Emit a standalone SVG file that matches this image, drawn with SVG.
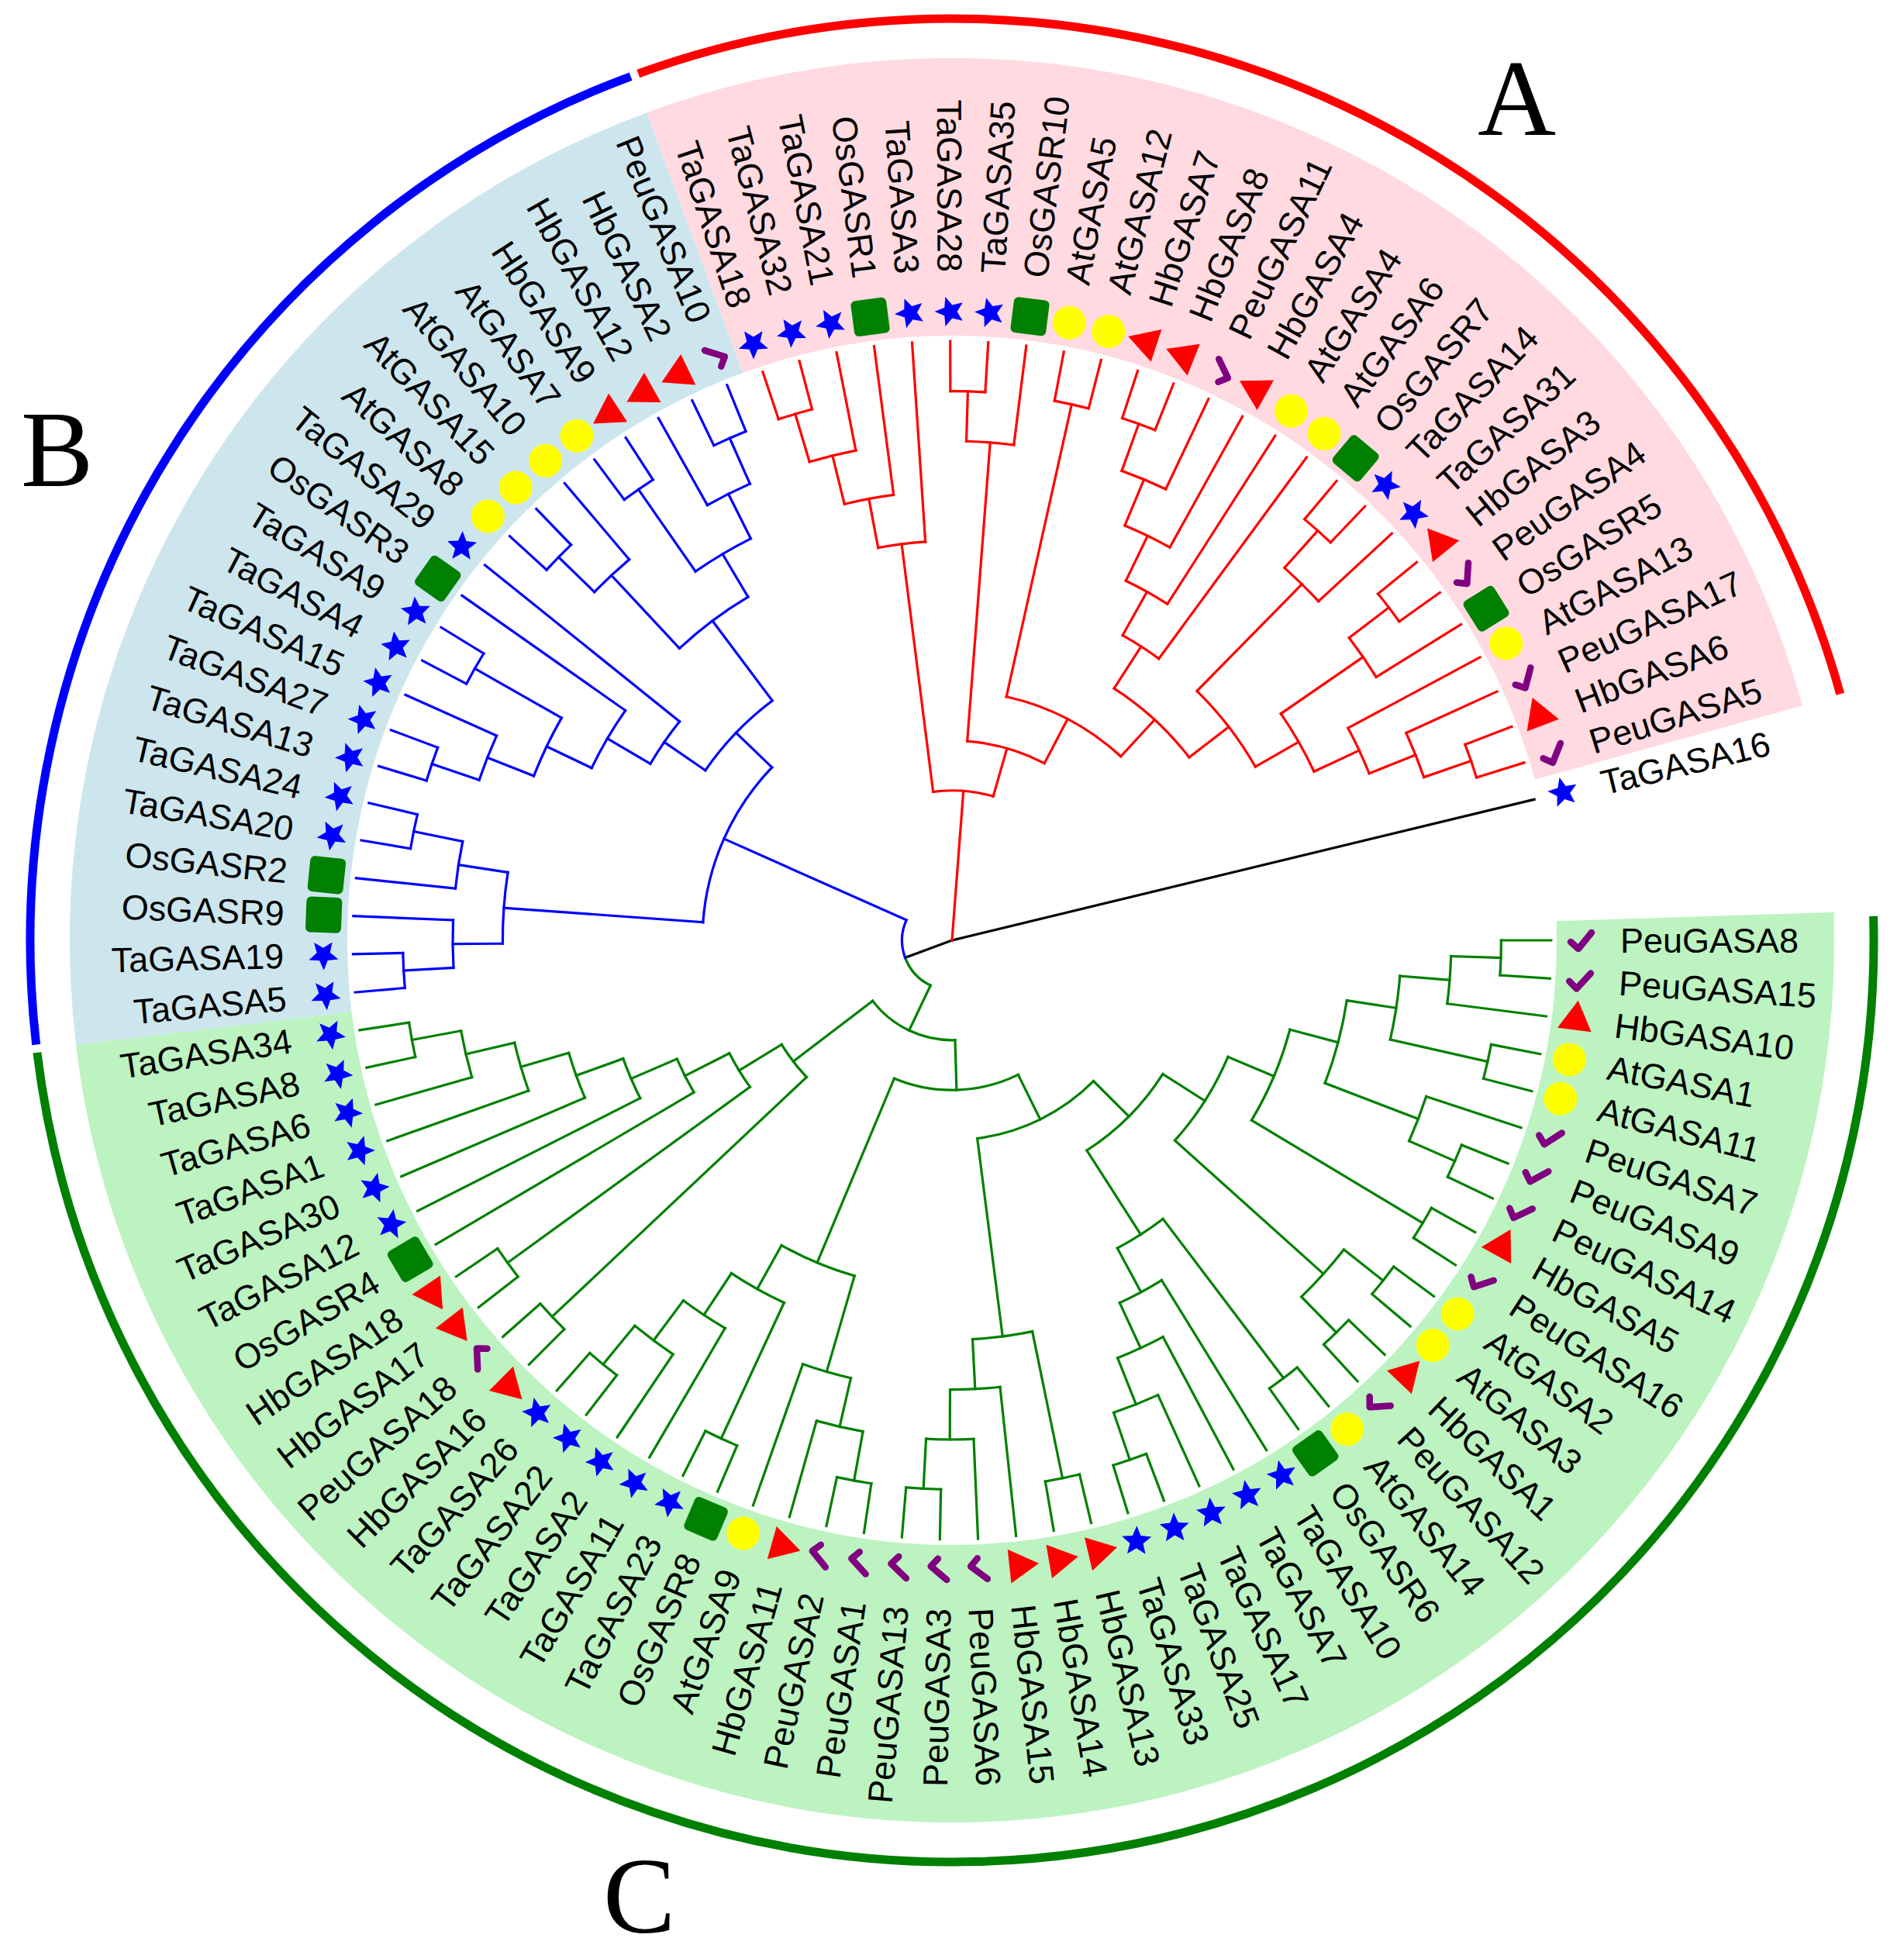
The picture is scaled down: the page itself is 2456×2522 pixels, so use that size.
<svg xmlns="http://www.w3.org/2000/svg" width="2456" height="2522" viewBox="0 0 2456 2522">
<style>
.tr path,.tr circle{fill:none;stroke-width:3.2;stroke-linecap:square}
.R path,.R circle{stroke:#ff0000}
.Bl path,.Bl circle{stroke:#0000ff}
.G path,.G circle{stroke:#008000}
.K path{stroke:#000000}
.lb text{font-family:"Liberation Sans",Arial,sans-serif;font-size:45px;fill:#000}
.lb .e{text-anchor:end}
.big{font-family:"Liberation Serif","Times New Roman",serif;font-size:140px;fill:#000}
.bg circle{fill:none;stroke-width:358}
.oa circle{fill:none;stroke-width:11}
</style>
<defs>
<path id="st" d="M0-20L5.29-7.28L19.02-6.18L8.56 2.78L11.76 16.18L0 9L-11.76 16.18L-8.56 2.78L-19.02-6.18L-5.29-7.28Z" fill="#0000ff"/>
<rect id="sq" x="-23" y="-23" width="46" height="46" rx="6" fill="#008000"/>
<circle id="ci" r="21.5" fill="#ffff00"/>
<path id="tri" d="M0-25.4L22 12.7L-22 12.7Z" fill="#ff0000"/>
<path id="ck" d="M-13 2L-3 11L14-10" fill="none" stroke="#800080" stroke-width="8.5" stroke-linecap="round" stroke-linejoin="round"/>
</defs>
<rect width="2456" height="2522" fill="#fff"/>
<g transform="translate(1228,1213)">
<g id="bands" class="bg">
<circle r="959" pathLength="360" stroke-dasharray="175.02 360" transform="rotate(-1.82)" stroke="#bcf3c0"/>
<circle r="959" pathLength="360" stroke-dasharray="76.57 360" transform="rotate(173.2)" stroke="#cde6ee"/>
<circle r="959" pathLength="360" stroke-dasharray="94.81 360" transform="rotate(249.77)" stroke="#ffdae0"/>
</g>
<g id="clade-arcs" class="oa">
<circle r="1189" pathLength="360" stroke-dasharray="94.4 360" transform="rotate(250.1)" stroke="#ff0000"/>
<circle r="1189" pathLength="360" stroke-dasharray="76.1 360" transform="rotate(173.5)" stroke="#0000ff"/>
<circle r="1189" pathLength="360" stroke-dasharray="174.5 360" transform="rotate(-1.5)" stroke="#008000"/>
</g>
<g id="connectors" class="tr">
<g class="K">
<path d="M0 0H64.4" transform="rotate(159.72)"/>
<path d="M0 0H772.8" transform="rotate(346.4)"/>
</g>
<g class="G">
<path d="M708.4 0H772.8"/>
<path d="M708.4 0H772.8" transform="rotate(3.65)"/>
<path d="M644 0H772.8" transform="rotate(7.29)"/>
<path d="M708.4 0H772.8" transform="rotate(10.94)"/>
<path d="M708.4 0H772.8" transform="rotate(14.59)"/>
<path d="M644 0H772.8" transform="rotate(18.23)"/>
<path d="M708.4 0H772.8" transform="rotate(21.88)"/>
<path d="M708.4 0H772.8" transform="rotate(25.52)"/>
<path d="M708.4 0H772.8" transform="rotate(29.17)"/>
<path d="M708.4 0H772.8" transform="rotate(32.82)"/>
<path d="M708.4 0H772.8" transform="rotate(36.46)"/>
<path d="M708.4 0H772.8" transform="rotate(40.11)"/>
<path d="M708.4 0H772.8" transform="rotate(43.76)"/>
<path d="M708.4 0H772.8" transform="rotate(47.4)"/>
<path d="M708.4 0H772.8" transform="rotate(51.05)"/>
<path d="M708.4 0H772.8" transform="rotate(54.69)"/>
<path d="M515.2 0H772.8" transform="rotate(58.34)"/>
<path d="M579.6 0H772.8" transform="rotate(61.99)"/>
<path d="M644 0H772.8" transform="rotate(65.63)"/>
<path d="M708.4 0H772.8" transform="rotate(69.28)"/>
<path d="M708.4 0H772.8" transform="rotate(72.93)"/>
<path d="M708.4 0H772.8" transform="rotate(76.57)"/>
<path d="M708.4 0H772.8" transform="rotate(80.22)"/>
<path d="M579.6 0H772.8" transform="rotate(83.86)"/>
<path d="M644 0H772.8" transform="rotate(87.51)"/>
<path d="M708.4 0H772.8" transform="rotate(91.16)"/>
<path d="M708.4 0H772.8" transform="rotate(94.8)"/>
<path d="M708.4 0H772.8" transform="rotate(98.45)"/>
<path d="M708.4 0H772.8" transform="rotate(102.1)"/>
<path d="M644 0H772.8" transform="rotate(105.74)"/>
<path d="M579.6 0H772.8" transform="rotate(109.39)"/>
<path d="M708.4 0H772.8" transform="rotate(113.04)"/>
<path d="M708.4 0H772.8" transform="rotate(116.68)"/>
<path d="M579.6 0H772.8" transform="rotate(120.33)"/>
<path d="M644 0H772.8" transform="rotate(123.97)"/>
<path d="M708.4 0H772.8" transform="rotate(127.62)"/>
<path d="M708.4 0H772.8" transform="rotate(131.27)"/>
<path d="M708.4 0H772.8" transform="rotate(134.91)"/>
<path d="M708.4 0H772.8" transform="rotate(138.56)"/>
<path d="M708.4 0H772.8" transform="rotate(142.21)"/>
<path d="M708.4 0H772.8" transform="rotate(145.85)"/>
<path d="M386.4 0H772.8" transform="rotate(149.5)"/>
<path d="M450.8 0H772.8" transform="rotate(153.14)"/>
<path d="M515.2 0H772.8" transform="rotate(156.79)"/>
<path d="M579.6 0H772.8" transform="rotate(160.44)"/>
<path d="M644 0H772.8" transform="rotate(164.08)"/>
<path d="M708.4 0H772.8" transform="rotate(167.73)"/>
<path d="M708.4 0H772.8" transform="rotate(171.38)"/>
<path d="M644 0H708.4" transform="rotate(1.825)"/>
<path d="M579.6 0H644" transform="rotate(4.56)"/>
<path d="M579.6 0H708.4" transform="rotate(12.765)"/>
<path d="M515.2 0H579.6" transform="rotate(8.66)"/>
<path d="M644 0H708.4" transform="rotate(23.7)"/>
<path d="M515.2 0H644" transform="rotate(20.965)"/>
<path d="M450.8 0H515.2" transform="rotate(14.81)"/>
<path d="M450.8 0H708.4" transform="rotate(30.995)"/>
<path d="M386.4 0H450.8" transform="rotate(22.9)"/>
<path d="M644 0H708.4" transform="rotate(38.285)"/>
<path d="M644 0H708.4" transform="rotate(45.58)"/>
<path d="M386.4 0H644" transform="rotate(41.93)"/>
<path d="M322 0H386.4" transform="rotate(32.415)"/>
<path d="M450.8 0H708.4" transform="rotate(52.87)"/>
<path d="M644 0H708.4" transform="rotate(71.105)"/>
<path d="M579.6 0H644" transform="rotate(68.37)"/>
<path d="M515.2 0H579.6" transform="rotate(65.18)"/>
<path d="M450.8 0H515.2" transform="rotate(61.76)"/>
<path d="M322 0H450.8" transform="rotate(57.315)"/>
<path d="M257.6 0H322" transform="rotate(44.865)"/>
<path d="M515.2 0H708.4" transform="rotate(78.395)"/>
<path d="M644 0H708.4" transform="rotate(92.98)"/>
<path d="M579.6 0H644" transform="rotate(90.245)"/>
<path d="M515.2 0H579.6" transform="rotate(87.05)"/>
<path d="M257.6 0H515.2" transform="rotate(82.72)"/>
<path d="M193.2 0H257.6" transform="rotate(63.79)"/>
<path d="M644 0H708.4" transform="rotate(100.275)"/>
<path d="M579.6 0H644" transform="rotate(103.01)"/>
<path d="M450.8 0H579.6" transform="rotate(106.2)"/>
<path d="M515.2 0H708.4" transform="rotate(114.86)"/>
<path d="M644 0H708.4" transform="rotate(129.445)"/>
<path d="M579.6 0H644" transform="rotate(126.71)"/>
<path d="M515.2 0H579.6" transform="rotate(123.52)"/>
<path d="M450.8 0H515.2" transform="rotate(119.19)"/>
<path d="M193.2 0H450.8" transform="rotate(112.695)"/>
<path d="M128.8 0H193.2" transform="rotate(88.24)"/>
<path d="M257.6 0H708.4" transform="rotate(136.735)"/>
<path d="M322 0H708.4" transform="rotate(144.03)"/>
<path d="M644 0H708.4" transform="rotate(169.555)"/>
<path d="M579.6 0H644" transform="rotate(166.82)"/>
<path d="M515.2 0H579.6" transform="rotate(163.63)"/>
<path d="M450.8 0H515.2" transform="rotate(160.21)"/>
<path d="M386.4 0H450.8" transform="rotate(156.675)"/>
<path d="M322 0H386.4" transform="rotate(153.09)"/>
<path d="M257.6 0H322" transform="rotate(148.56)"/>
<path d="M128.8 0H257.6" transform="rotate(142.65)"/>
<path d="M64.4 0H128.8" transform="rotate(115.445)"/>
<circle r="708.4" pathLength="360" stroke-dasharray="3.65 360"/>
<circle r="644" pathLength="360" stroke-dasharray="5.465 360" transform="rotate(1.825)"/>
<circle r="708.4" pathLength="360" stroke-dasharray="3.65 360" transform="rotate(10.94)"/>
<circle r="579.6" pathLength="360" stroke-dasharray="8.205 360" transform="rotate(4.56)"/>
<circle r="708.4" pathLength="360" stroke-dasharray="3.64 360" transform="rotate(21.88)"/>
<circle r="644" pathLength="360" stroke-dasharray="5.47 360" transform="rotate(18.23)"/>
<circle r="515.2" pathLength="360" stroke-dasharray="12.305 360" transform="rotate(8.66)"/>
<circle r="708.4" pathLength="360" stroke-dasharray="3.65 360" transform="rotate(29.17)"/>
<circle r="450.8" pathLength="360" stroke-dasharray="16.185 360" transform="rotate(14.81)"/>
<circle r="708.4" pathLength="360" stroke-dasharray="3.65 360" transform="rotate(36.46)"/>
<circle r="708.4" pathLength="360" stroke-dasharray="3.64 360" transform="rotate(43.76)"/>
<circle r="644" pathLength="360" stroke-dasharray="7.295 360" transform="rotate(38.285)"/>
<circle r="386.4" pathLength="360" stroke-dasharray="19.03 360" transform="rotate(22.9)"/>
<circle r="708.4" pathLength="360" stroke-dasharray="3.64 360" transform="rotate(51.05)"/>
<circle r="708.4" pathLength="360" stroke-dasharray="3.65 360" transform="rotate(69.28)"/>
<circle r="644" pathLength="360" stroke-dasharray="5.475 360" transform="rotate(65.63)"/>
<circle r="579.6" pathLength="360" stroke-dasharray="6.38 360" transform="rotate(61.99)"/>
<circle r="515.2" pathLength="360" stroke-dasharray="6.84 360" transform="rotate(58.34)"/>
<circle r="450.8" pathLength="360" stroke-dasharray="8.89 360" transform="rotate(52.87)"/>
<circle r="322" pathLength="360" stroke-dasharray="24.9 360" transform="rotate(32.415)"/>
<circle r="708.4" pathLength="360" stroke-dasharray="3.65 360" transform="rotate(76.57)"/>
<circle r="708.4" pathLength="360" stroke-dasharray="3.64 360" transform="rotate(91.16)"/>
<circle r="644" pathLength="360" stroke-dasharray="5.47 360" transform="rotate(87.51)"/>
<circle r="579.6" pathLength="360" stroke-dasharray="6.385 360" transform="rotate(83.86)"/>
<circle r="515.2" pathLength="360" stroke-dasharray="8.655 360" transform="rotate(78.395)"/>
<circle r="257.6" pathLength="360" stroke-dasharray="37.855 360" transform="rotate(44.865)"/>
<circle r="708.4" pathLength="360" stroke-dasharray="3.65 360" transform="rotate(98.45)"/>
<circle r="644" pathLength="360" stroke-dasharray="5.465 360" transform="rotate(100.275)"/>
<circle r="579.6" pathLength="360" stroke-dasharray="6.38 360" transform="rotate(103.01)"/>
<circle r="708.4" pathLength="360" stroke-dasharray="3.64 360" transform="rotate(113.04)"/>
<circle r="708.4" pathLength="360" stroke-dasharray="3.65 360" transform="rotate(127.62)"/>
<circle r="644" pathLength="360" stroke-dasharray="5.475 360" transform="rotate(123.97)"/>
<circle r="579.6" pathLength="360" stroke-dasharray="6.38 360" transform="rotate(120.33)"/>
<circle r="515.2" pathLength="360" stroke-dasharray="8.66 360" transform="rotate(114.86)"/>
<circle r="450.8" pathLength="360" stroke-dasharray="12.99 360" transform="rotate(106.2)"/>
<circle r="193.2" pathLength="360" stroke-dasharray="48.905 360" transform="rotate(63.79)"/>
<circle r="708.4" pathLength="360" stroke-dasharray="3.65 360" transform="rotate(134.91)"/>
<circle r="708.4" pathLength="360" stroke-dasharray="3.64 360" transform="rotate(142.21)"/>
<circle r="708.4" pathLength="360" stroke-dasharray="3.65 360" transform="rotate(167.73)"/>
<circle r="644" pathLength="360" stroke-dasharray="5.475 360" transform="rotate(164.08)"/>
<circle r="579.6" pathLength="360" stroke-dasharray="6.38 360" transform="rotate(160.44)"/>
<circle r="515.2" pathLength="360" stroke-dasharray="6.84 360" transform="rotate(156.79)"/>
<circle r="450.8" pathLength="360" stroke-dasharray="7.07 360" transform="rotate(153.14)"/>
<circle r="386.4" pathLength="360" stroke-dasharray="7.175 360" transform="rotate(149.5)"/>
<circle r="322" pathLength="360" stroke-dasharray="9.06 360" transform="rotate(144.03)"/>
<circle r="257.6" pathLength="360" stroke-dasharray="11.825 360" transform="rotate(136.735)"/>
<circle r="128.8" pathLength="360" stroke-dasharray="54.41 360" transform="rotate(88.24)"/>
<circle r="64.4" pathLength="360" stroke-dasharray="44.275 360" transform="rotate(115.445)"/>
</g>
<g class="Bl">
<path d="M708.4 0H772.8" transform="rotate(175.02)"/>
<path d="M708.4 0H772.8" transform="rotate(178.67)"/>
<path d="M644 0H772.8" transform="rotate(182.32)"/>
<path d="M644 0H772.8" transform="rotate(185.96)"/>
<path d="M708.4 0H772.8" transform="rotate(189.61)"/>
<path d="M708.4 0H772.8" transform="rotate(193.25)"/>
<path d="M708.4 0H772.8" transform="rotate(196.9)"/>
<path d="M708.4 0H772.8" transform="rotate(200.55)"/>
<path d="M644 0H772.8" transform="rotate(204.19)"/>
<path d="M708.4 0H772.8" transform="rotate(207.84)"/>
<path d="M708.4 0H772.8" transform="rotate(211.49)"/>
<path d="M515.2 0H772.8" transform="rotate(215.13)"/>
<path d="M450.8 0H772.8" transform="rotate(218.78)"/>
<path d="M708.4 0H772.8" transform="rotate(222.42)"/>
<path d="M708.4 0H772.8" transform="rotate(226.07)"/>
<path d="M644 0H772.8" transform="rotate(229.72)"/>
<path d="M708.4 0H772.8" transform="rotate(233.36)"/>
<path d="M708.4 0H772.8" transform="rotate(237.01)"/>
<path d="M644 0H772.8" transform="rotate(240.66)"/>
<path d="M708.4 0H772.8" transform="rotate(244.3)"/>
<path d="M708.4 0H772.8" transform="rotate(247.95)"/>
<path d="M644 0H708.4" transform="rotate(176.845)"/>
<path d="M579.6 0H644" transform="rotate(179.58)"/>
<path d="M644 0H708.4" transform="rotate(191.43)"/>
<path d="M579.6 0H644" transform="rotate(188.695)"/>
<path d="M322 0H579.6" transform="rotate(184.14)"/>
<path d="M644 0H708.4" transform="rotate(198.725)"/>
<path d="M579.6 0H644" transform="rotate(201.46)"/>
<path d="M579.6 0H708.4" transform="rotate(209.665)"/>
<path d="M515.2 0H579.6" transform="rotate(205.56)"/>
<path d="M450.8 0H515.2" transform="rotate(210.345)"/>
<path d="M386.4 0H450.8" transform="rotate(214.56)"/>
<path d="M644 0H708.4" transform="rotate(224.245)"/>
<path d="M515.2 0H644" transform="rotate(226.98)"/>
<path d="M579.6 0H708.4" transform="rotate(235.185)"/>
<path d="M644 0H708.4" transform="rotate(246.125)"/>
<path d="M579.6 0H644" transform="rotate(243.39)"/>
<path d="M515.2 0H579.6" transform="rotate(239.29)"/>
<path d="M386.4 0H515.2" transform="rotate(233.135)"/>
<path d="M322 0H386.4" transform="rotate(223.85)"/>
<path d="M64.4 0H322" transform="rotate(203.995)"/>
<circle r="708.4" pathLength="360" stroke-dasharray="3.65 360" transform="rotate(175.02)"/>
<circle r="644" pathLength="360" stroke-dasharray="5.475 360" transform="rotate(176.845)"/>
<circle r="708.4" pathLength="360" stroke-dasharray="3.64 360" transform="rotate(189.61)"/>
<circle r="644" pathLength="360" stroke-dasharray="5.47 360" transform="rotate(185.96)"/>
<circle r="579.6" pathLength="360" stroke-dasharray="9.115 360" transform="rotate(179.58)"/>
<circle r="708.4" pathLength="360" stroke-dasharray="3.65 360" transform="rotate(196.9)"/>
<circle r="644" pathLength="360" stroke-dasharray="5.465 360" transform="rotate(198.725)"/>
<circle r="708.4" pathLength="360" stroke-dasharray="3.65 360" transform="rotate(207.84)"/>
<circle r="579.6" pathLength="360" stroke-dasharray="8.205 360" transform="rotate(201.46)"/>
<circle r="515.2" pathLength="360" stroke-dasharray="9.57 360" transform="rotate(205.56)"/>
<circle r="450.8" pathLength="360" stroke-dasharray="8.435 360" transform="rotate(210.345)"/>
<circle r="708.4" pathLength="360" stroke-dasharray="3.65 360" transform="rotate(222.42)"/>
<circle r="644" pathLength="360" stroke-dasharray="5.475 360" transform="rotate(224.245)"/>
<circle r="708.4" pathLength="360" stroke-dasharray="3.65 360" transform="rotate(233.36)"/>
<circle r="708.4" pathLength="360" stroke-dasharray="3.65 360" transform="rotate(244.3)"/>
<circle r="644" pathLength="360" stroke-dasharray="5.465 360" transform="rotate(240.66)"/>
<circle r="579.6" pathLength="360" stroke-dasharray="8.205 360" transform="rotate(235.185)"/>
<circle r="515.2" pathLength="360" stroke-dasharray="12.31 360" transform="rotate(226.98)"/>
<circle r="386.4" pathLength="360" stroke-dasharray="18.575 360" transform="rotate(214.56)"/>
<circle r="322" pathLength="360" stroke-dasharray="39.71 360" transform="rotate(184.14)"/>
<circle r="64.4" pathLength="360" stroke-dasharray="44.275 360" transform="rotate(159.72)"/>
</g>
<g class="R">
<path d="M708.4 0H772.8" transform="rotate(251.59)"/>
<path d="M708.4 0H772.8" transform="rotate(255.24)"/>
<path d="M644 0H772.8" transform="rotate(258.89)"/>
<path d="M579.6 0H772.8" transform="rotate(262.53)"/>
<path d="M515.2 0H772.8" transform="rotate(266.18)"/>
<path d="M708.4 0H772.8" transform="rotate(269.83)"/>
<path d="M708.4 0H772.8" transform="rotate(273.47)"/>
<path d="M644 0H772.8" transform="rotate(277.12)"/>
<path d="M708.4 0H772.8" transform="rotate(280.76)"/>
<path d="M708.4 0H772.8" transform="rotate(284.41)"/>
<path d="M708.4 0H772.8" transform="rotate(288.06)"/>
<path d="M708.4 0H772.8" transform="rotate(291.7)"/>
<path d="M644 0H772.8" transform="rotate(295.35)"/>
<path d="M579.6 0H772.8" transform="rotate(299)"/>
<path d="M515.2 0H772.8" transform="rotate(302.64)"/>
<path d="M450.8 0H772.8" transform="rotate(306.29)"/>
<path d="M708.4 0H772.8" transform="rotate(309.94)"/>
<path d="M708.4 0H772.8" transform="rotate(313.58)"/>
<path d="M644 0H772.8" transform="rotate(317.23)"/>
<path d="M708.4 0H772.8" transform="rotate(320.87)"/>
<path d="M708.4 0H772.8" transform="rotate(324.52)"/>
<path d="M644 0H772.8" transform="rotate(328.17)"/>
<path d="M579.6 0H772.8" transform="rotate(331.81)"/>
<path d="M644 0H772.8" transform="rotate(335.46)"/>
<path d="M708.4 0H772.8" transform="rotate(339.11)"/>
<path d="M708.4 0H772.8" transform="rotate(342.75)"/>
<path d="M644 0H708.4" transform="rotate(253.415)"/>
<path d="M579.6 0H644" transform="rotate(256.15)"/>
<path d="M515.2 0H579.6" transform="rotate(259.34)"/>
<path d="M193.2 0H515.2" transform="rotate(262.76)"/>
<path d="M644 0H708.4" transform="rotate(271.65)"/>
<path d="M257.6 0H644" transform="rotate(274.385)"/>
<path d="M322 0H708.4" transform="rotate(282.585)"/>
<path d="M644 0H708.4" transform="rotate(289.88)"/>
<path d="M579.6 0H644" transform="rotate(292.615)"/>
<path d="M515.2 0H579.6" transform="rotate(295.81)"/>
<path d="M450.8 0H515.2" transform="rotate(299.225)"/>
<path d="M386.4 0H450.8" transform="rotate(302.76)"/>
<path d="M644 0H708.4" transform="rotate(311.76)"/>
<path d="M450.8 0H644" transform="rotate(314.495)"/>
<path d="M644 0H708.4" transform="rotate(322.695)"/>
<path d="M515.2 0H644" transform="rotate(325.43)"/>
<path d="M644 0H708.4" transform="rotate(340.93)"/>
<path d="M579.6 0H644" transform="rotate(338.195)"/>
<path d="M515.2 0H579.6" transform="rotate(335)"/>
<path d="M450.8 0H515.2" transform="rotate(330.215)"/>
<path d="M386.4 0H450.8" transform="rotate(322.355)"/>
<path d="M322 0H386.4" transform="rotate(312.56)"/>
<path d="M257.6 0H322" transform="rotate(297.57)"/>
<path d="M193.2 0H257.6" transform="rotate(285.98)"/>
<path d="M0 0H193.2" transform="rotate(274.37)"/>
<circle r="708.4" pathLength="360" stroke-dasharray="3.65 360" transform="rotate(251.59)"/>
<circle r="644" pathLength="360" stroke-dasharray="5.475 360" transform="rotate(253.415)"/>
<circle r="579.6" pathLength="360" stroke-dasharray="6.38 360" transform="rotate(256.15)"/>
<circle r="515.2" pathLength="360" stroke-dasharray="6.84 360" transform="rotate(259.34)"/>
<circle r="708.4" pathLength="360" stroke-dasharray="3.64 360" transform="rotate(269.83)"/>
<circle r="644" pathLength="360" stroke-dasharray="5.47 360" transform="rotate(271.65)"/>
<circle r="708.4" pathLength="360" stroke-dasharray="3.65 360" transform="rotate(280.76)"/>
<circle r="708.4" pathLength="360" stroke-dasharray="3.64 360" transform="rotate(288.06)"/>
<circle r="644" pathLength="360" stroke-dasharray="5.47 360" transform="rotate(289.88)"/>
<circle r="579.6" pathLength="360" stroke-dasharray="6.385 360" transform="rotate(292.615)"/>
<circle r="515.2" pathLength="360" stroke-dasharray="6.83 360" transform="rotate(295.81)"/>
<circle r="450.8" pathLength="360" stroke-dasharray="7.065 360" transform="rotate(299.225)"/>
<circle r="708.4" pathLength="360" stroke-dasharray="3.64 360" transform="rotate(309.94)"/>
<circle r="644" pathLength="360" stroke-dasharray="5.47 360" transform="rotate(311.76)"/>
<circle r="708.4" pathLength="360" stroke-dasharray="3.65 360" transform="rotate(320.87)"/>
<circle r="644" pathLength="360" stroke-dasharray="5.475 360" transform="rotate(322.695)"/>
<circle r="708.4" pathLength="360" stroke-dasharray="3.64 360" transform="rotate(339.11)"/>
<circle r="644" pathLength="360" stroke-dasharray="5.47 360" transform="rotate(335.46)"/>
<circle r="579.6" pathLength="360" stroke-dasharray="6.385 360" transform="rotate(331.81)"/>
<circle r="515.2" pathLength="360" stroke-dasharray="9.57 360" transform="rotate(325.43)"/>
<circle r="450.8" pathLength="360" stroke-dasharray="15.72 360" transform="rotate(314.495)"/>
<circle r="386.4" pathLength="360" stroke-dasharray="19.595 360" transform="rotate(302.76)"/>
<circle r="322" pathLength="360" stroke-dasharray="29.97 360" transform="rotate(282.585)"/>
<circle r="257.6" pathLength="360" stroke-dasharray="23.185 360" transform="rotate(274.385)"/>
<circle r="193.2" pathLength="360" stroke-dasharray="23.22 360" transform="rotate(262.76)"/>
</g>
</g>
<g id="leaves" class="lb">
<g id="PeuGASA8"><use href="#ck" transform="translate(811)"/><text x="862" y="16">PeuGASA8</text></g>
<g id="PeuGASA15"><use href="#ck" transform="rotate(3.65) translate(811)"/><text transform="rotate(3.65)" x="862" y="16">PeuGASA15</text></g>
<g id="HbGASA10"><use href="#tri" transform="rotate(7.29) translate(811)"/><text transform="rotate(7.29)" x="862" y="16">HbGASA10</text></g>
<g id="AtGASA1"><use href="#ci" transform="rotate(10.94) translate(811)"/><text transform="rotate(10.94)" x="862" y="16">AtGASA1</text></g>
<g id="AtGASA11"><use href="#ci" transform="rotate(14.59) translate(811)"/><text transform="rotate(14.59)" x="862" y="16">AtGASA11</text></g>
<g id="PeuGASA7"><use href="#ck" transform="rotate(18.23) translate(811)"/><text transform="rotate(18.23)" x="862" y="16">PeuGASA7</text></g>
<g id="PeuGASA9"><use href="#ck" transform="rotate(21.88) translate(811)"/><text transform="rotate(21.88)" x="862" y="16">PeuGASA9</text></g>
<g id="PeuGASA14"><use href="#ck" transform="rotate(25.52) translate(811)"/><text transform="rotate(25.52)" x="862" y="16">PeuGASA14</text></g>
<g id="HbGASA5"><use href="#tri" transform="rotate(29.17) translate(811)"/><text transform="rotate(29.17)" x="862" y="16">HbGASA5</text></g>
<g id="PeuGASA16"><use href="#ck" transform="rotate(32.82) translate(811)"/><text transform="rotate(32.82)" x="862" y="16">PeuGASA16</text></g>
<g id="AtGASA2"><use href="#ci" transform="rotate(36.46) translate(811)"/><text transform="rotate(36.46)" x="862" y="16">AtGASA2</text></g>
<g id="AtGASA3"><use href="#ci" transform="rotate(40.11) translate(811)"/><text transform="rotate(40.11)" x="862" y="16">AtGASA3</text></g>
<g id="HbGASA1"><use href="#tri" transform="rotate(43.76) translate(811)"/><text transform="rotate(43.76)" x="862" y="16">HbGASA1</text></g>
<g id="PeuGASA12"><use href="#ck" transform="rotate(47.4) translate(811)"/><text transform="rotate(47.4)" x="862" y="16">PeuGASA12</text></g>
<g id="AtGASA14"><use href="#ci" transform="rotate(51.05) translate(811)"/><text transform="rotate(51.05)" x="862" y="16">AtGASA14</text></g>
<g id="OsGASR6"><use href="#sq" transform="rotate(54.69) translate(811)"/><text transform="rotate(54.69)" x="862" y="16">OsGASR6</text></g>
<g id="TaGASA10"><use href="#st" transform="rotate(58.34) translate(811)"/><text transform="rotate(58.34)" x="862" y="16">TaGASA10</text></g>
<g id="TaGASA7"><use href="#st" transform="rotate(61.99) translate(811)"/><text transform="rotate(61.99)" x="862" y="16">TaGASA7</text></g>
<g id="TaGASA17"><use href="#st" transform="rotate(65.63) translate(811)"/><text transform="rotate(65.63)" x="862" y="16">TaGASA17</text></g>
<g id="TaGASA25"><use href="#st" transform="rotate(69.28) translate(811)"/><text transform="rotate(69.28)" x="862" y="16">TaGASA25</text></g>
<g id="TaGASA33"><use href="#st" transform="rotate(72.93) translate(811)"/><text transform="rotate(72.93)" x="862" y="16">TaGASA33</text></g>
<g id="HbGASA13"><use href="#tri" transform="rotate(76.57) translate(811)"/><text transform="rotate(76.57)" x="862" y="16">HbGASA13</text></g>
<g id="HbGASA14"><use href="#tri" transform="rotate(80.22) translate(811)"/><text transform="rotate(80.22)" x="862" y="16">HbGASA14</text></g>
<g id="HbGASA15"><use href="#tri" transform="rotate(83.86) translate(811)"/><text transform="rotate(83.86)" x="862" y="16">HbGASA15</text></g>
<g id="PeuGASA6"><use href="#ck" transform="rotate(87.51) translate(811)"/><text transform="rotate(87.51)" x="862" y="16">PeuGASA6</text></g>
<g id="PeuGASA3"><use href="#ck" transform="rotate(91.16) translate(811)"/><text class="e" transform="rotate(-88.84)" x="-862" y="16">PeuGASA3</text></g>
<g id="PeuGASA13"><use href="#ck" transform="rotate(94.8) translate(811)"/><text class="e" transform="rotate(-85.2)" x="-862" y="16">PeuGASA13</text></g>
<g id="PeuGASA1"><use href="#ck" transform="rotate(98.45) translate(811)"/><text class="e" transform="rotate(-81.55)" x="-862" y="16">PeuGASA1</text></g>
<g id="PeuGASA2"><use href="#ck" transform="rotate(102.1) translate(811)"/><text class="e" transform="rotate(-77.9)" x="-862" y="16">PeuGASA2</text></g>
<g id="HbGASA11"><use href="#tri" transform="rotate(105.74) translate(811)"/><text class="e" transform="rotate(-74.26)" x="-862" y="16">HbGASA11</text></g>
<g id="AtGASA9"><use href="#ci" transform="rotate(109.39) translate(811)"/><text class="e" transform="rotate(-70.61)" x="-862" y="16">AtGASA9</text></g>
<g id="OsGASR8"><use href="#sq" transform="rotate(113.04) translate(811)"/><text class="e" transform="rotate(-66.96)" x="-862" y="16">OsGASR8</text></g>
<g id="TaGASA23"><use href="#st" transform="rotate(116.68) translate(811)"/><text class="e" transform="rotate(-63.32)" x="-862" y="16">TaGASA23</text></g>
<g id="TaGASA11"><use href="#st" transform="rotate(120.33) translate(811)"/><text class="e" transform="rotate(-59.67)" x="-862" y="16">TaGASA11</text></g>
<g id="TaGASA2"><use href="#st" transform="rotate(123.97) translate(811)"/><text class="e" transform="rotate(-56.03)" x="-862" y="16">TaGASA2</text></g>
<g id="TaGASA22"><use href="#st" transform="rotate(127.62) translate(811)"/><text class="e" transform="rotate(-52.38)" x="-862" y="16">TaGASA22</text></g>
<g id="TaGASA26"><use href="#st" transform="rotate(131.27) translate(811)"/><text class="e" transform="rotate(-48.73)" x="-862" y="16">TaGASA26</text></g>
<g id="HbGASA16"><use href="#tri" transform="rotate(134.91) translate(811)"/><text class="e" transform="rotate(-45.09)" x="-862" y="16">HbGASA16</text></g>
<g id="PeuGASA18"><use href="#ck" transform="rotate(138.56) translate(811)"/><text class="e" transform="rotate(-41.44)" x="-862" y="16">PeuGASA18</text></g>
<g id="HbGASA17"><use href="#tri" transform="rotate(142.21) translate(811)"/><text class="e" transform="rotate(-37.79)" x="-862" y="16">HbGASA17</text></g>
<g id="HbGASA18"><use href="#tri" transform="rotate(145.85) translate(811)"/><text class="e" transform="rotate(-34.15)" x="-862" y="16">HbGASA18</text></g>
<g id="OsGASR4"><use href="#sq" transform="rotate(149.5) translate(811)"/><text class="e" transform="rotate(-30.5)" x="-862" y="16">OsGASR4</text></g>
<g id="TaGASA12"><use href="#st" transform="rotate(153.14) translate(811)"/><text class="e" transform="rotate(-26.86)" x="-862" y="16">TaGASA12</text></g>
<g id="TaGASA30"><use href="#st" transform="rotate(156.79) translate(811)"/><text class="e" transform="rotate(-23.21)" x="-862" y="16">TaGASA30</text></g>
<g id="TaGASA1"><use href="#st" transform="rotate(160.44) translate(811)"/><text class="e" transform="rotate(-19.56)" x="-862" y="16">TaGASA1</text></g>
<g id="TaGASA6"><use href="#st" transform="rotate(164.08) translate(811)"/><text class="e" transform="rotate(-15.92)" x="-862" y="16">TaGASA6</text></g>
<g id="TaGASA8"><use href="#st" transform="rotate(167.73) translate(811)"/><text class="e" transform="rotate(-12.27)" x="-862" y="16">TaGASA8</text></g>
<g id="TaGASA34"><use href="#st" transform="rotate(171.38) translate(811)"/><text class="e" transform="rotate(-8.62)" x="-862" y="16">TaGASA34</text></g>
<g id="TaGASA5"><use href="#st" transform="rotate(175.02) translate(811)"/><text class="e" transform="rotate(-4.98)" x="-862" y="16">TaGASA5</text></g>
<g id="TaGASA19"><use href="#st" transform="rotate(178.67) translate(811)"/><text class="e" transform="rotate(-1.33)" x="-862" y="16">TaGASA19</text></g>
<g id="OsGASR9"><use href="#sq" transform="rotate(182.32) translate(811)"/><text class="e" transform="rotate(2.32)" x="-862" y="16">OsGASR9</text></g>
<g id="OsGASR2"><use href="#sq" transform="rotate(185.96) translate(811)"/><text class="e" transform="rotate(5.96)" x="-862" y="16">OsGASR2</text></g>
<g id="TaGASA20"><use href="#st" transform="rotate(189.61) translate(811)"/><text class="e" transform="rotate(9.61)" x="-862" y="16">TaGASA20</text></g>
<g id="TaGASA24"><use href="#st" transform="rotate(193.25) translate(811)"/><text class="e" transform="rotate(13.25)" x="-862" y="16">TaGASA24</text></g>
<g id="TaGASA13"><use href="#st" transform="rotate(196.9) translate(811)"/><text class="e" transform="rotate(16.9)" x="-862" y="16">TaGASA13</text></g>
<g id="TaGASA27"><use href="#st" transform="rotate(200.55) translate(811)"/><text class="e" transform="rotate(20.55)" x="-862" y="16">TaGASA27</text></g>
<g id="TaGASA15"><use href="#st" transform="rotate(204.19) translate(811)"/><text class="e" transform="rotate(24.19)" x="-862" y="16">TaGASA15</text></g>
<g id="TaGASA4"><use href="#st" transform="rotate(207.84) translate(811)"/><text class="e" transform="rotate(27.84)" x="-862" y="16">TaGASA4</text></g>
<g id="TaGASA9"><use href="#st" transform="rotate(211.49) translate(811)"/><text class="e" transform="rotate(31.49)" x="-862" y="16">TaGASA9</text></g>
<g id="OsGASR3"><use href="#sq" transform="rotate(215.13) translate(811)"/><text class="e" transform="rotate(35.13)" x="-862" y="16">OsGASR3</text></g>
<g id="TaGASA29"><use href="#st" transform="rotate(218.78) translate(811)"/><text class="e" transform="rotate(38.78)" x="-862" y="16">TaGASA29</text></g>
<g id="AtGASA8"><use href="#ci" transform="rotate(222.42) translate(811)"/><text class="e" transform="rotate(42.42)" x="-862" y="16">AtGASA8</text></g>
<g id="AtGASA15"><use href="#ci" transform="rotate(226.07) translate(811)"/><text class="e" transform="rotate(46.07)" x="-862" y="16">AtGASA15</text></g>
<g id="AtGASA10"><use href="#ci" transform="rotate(229.72) translate(811)"/><text class="e" transform="rotate(49.72)" x="-862" y="16">AtGASA10</text></g>
<g id="AtGASA7"><use href="#ci" transform="rotate(233.36) translate(811)"/><text class="e" transform="rotate(53.36)" x="-862" y="16">AtGASA7</text></g>
<g id="HbGASA9"><use href="#tri" transform="rotate(237.01) translate(811)"/><text class="e" transform="rotate(57.01)" x="-862" y="16">HbGASA9</text></g>
<g id="HbGASA12"><use href="#tri" transform="rotate(240.66) translate(811)"/><text class="e" transform="rotate(60.66)" x="-862" y="16">HbGASA12</text></g>
<g id="HbGASA2"><use href="#tri" transform="rotate(244.3) translate(811)"/><text class="e" transform="rotate(64.3)" x="-862" y="16">HbGASA2</text></g>
<g id="PeuGASA10"><use href="#ck" transform="rotate(247.95) translate(811)"/><text class="e" transform="rotate(67.95)" x="-862" y="16">PeuGASA10</text></g>
<g id="TaGASA18"><use href="#st" transform="rotate(251.59) translate(811)"/><text class="e" transform="rotate(71.59)" x="-862" y="16">TaGASA18</text></g>
<g id="TaGASA32"><use href="#st" transform="rotate(255.24) translate(811)"/><text class="e" transform="rotate(75.24)" x="-862" y="16">TaGASA32</text></g>
<g id="TaGASA21"><use href="#st" transform="rotate(258.89) translate(811)"/><text class="e" transform="rotate(78.89)" x="-862" y="16">TaGASA21</text></g>
<g id="OsGASR1"><use href="#sq" transform="rotate(262.53) translate(811)"/><text class="e" transform="rotate(82.53)" x="-862" y="16">OsGASR1</text></g>
<g id="TaGASA3"><use href="#st" transform="rotate(266.18) translate(811)"/><text class="e" transform="rotate(86.18)" x="-862" y="16">TaGASA3</text></g>
<g id="TaGASA28"><use href="#st" transform="rotate(269.83) translate(811)"/><text class="e" transform="rotate(89.83)" x="-862" y="16">TaGASA28</text></g>
<g id="TaGASA35"><use href="#st" transform="rotate(273.47) translate(811)"/><text transform="rotate(273.47)" x="862" y="16">TaGASA35</text></g>
<g id="OsGASR10"><use href="#sq" transform="rotate(277.12) translate(811)"/><text transform="rotate(277.12)" x="862" y="16">OsGASR10</text></g>
<g id="AtGASA5"><use href="#ci" transform="rotate(280.76) translate(811)"/><text transform="rotate(280.76)" x="862" y="16">AtGASA5</text></g>
<g id="AtGASA12"><use href="#ci" transform="rotate(284.41) translate(811)"/><text transform="rotate(284.41)" x="862" y="16">AtGASA12</text></g>
<g id="HbGASA7"><use href="#tri" transform="rotate(288.06) translate(811)"/><text transform="rotate(288.06)" x="862" y="16">HbGASA7</text></g>
<g id="HbGASA8"><use href="#tri" transform="rotate(291.7) translate(811)"/><text transform="rotate(291.7)" x="862" y="16">HbGASA8</text></g>
<g id="PeuGASA11"><use href="#ck" transform="rotate(295.35) translate(811)"/><text transform="rotate(295.35)" x="862" y="16">PeuGASA11</text></g>
<g id="HbGASA4"><use href="#tri" transform="rotate(299) translate(811)"/><text transform="rotate(299)" x="862" y="16">HbGASA4</text></g>
<g id="AtGASA4"><use href="#ci" transform="rotate(302.64) translate(811)"/><text transform="rotate(302.64)" x="862" y="16">AtGASA4</text></g>
<g id="AtGASA6"><use href="#ci" transform="rotate(306.29) translate(811)"/><text transform="rotate(306.29)" x="862" y="16">AtGASA6</text></g>
<g id="OsGASR7"><use href="#sq" transform="rotate(309.94) translate(811)"/><text transform="rotate(309.94)" x="862" y="16">OsGASR7</text></g>
<g id="TaGASA14"><use href="#st" transform="rotate(313.58) translate(811)"/><text transform="rotate(313.58)" x="862" y="16">TaGASA14</text></g>
<g id="TaGASA31"><use href="#st" transform="rotate(317.23) translate(811)"/><text transform="rotate(317.23)" x="862" y="16">TaGASA31</text></g>
<g id="HbGASA3"><use href="#tri" transform="rotate(320.87) translate(811)"/><text transform="rotate(320.87)" x="862" y="16">HbGASA3</text></g>
<g id="PeuGASA4"><use href="#ck" transform="rotate(324.52) translate(811)"/><text transform="rotate(324.52)" x="862" y="16">PeuGASA4</text></g>
<g id="OsGASR5"><use href="#sq" transform="rotate(328.17) translate(811)"/><text transform="rotate(328.17)" x="862" y="16">OsGASR5</text></g>
<g id="AtGASA13"><use href="#ci" transform="rotate(331.81) translate(811)"/><text transform="rotate(331.81)" x="862" y="16">AtGASA13</text></g>
<g id="PeuGASA17"><use href="#ck" transform="rotate(335.46) translate(811)"/><text transform="rotate(335.46)" x="862" y="16">PeuGASA17</text></g>
<g id="HbGASA6"><use href="#tri" transform="rotate(339.11) translate(811)"/><text transform="rotate(339.11)" x="862" y="16">HbGASA6</text></g>
<g id="PeuGASA5"><use href="#ck" transform="rotate(342.75) translate(811)"/><text transform="rotate(342.75)" x="862" y="16">PeuGASA5</text></g>
<g id="TaGASA16"><use href="#st" transform="rotate(346.4) translate(811)"/><text transform="rotate(346.4)" x="862" y="16">TaGASA16</text></g>
</g>
</g>
<g id="clade-letters">
<text class="big" x="1906" y="174">A</text>
<text class="big" x="27" y="627">B</text>
<text class="big" x="778" y="2493">C</text>
</g>
</svg>
